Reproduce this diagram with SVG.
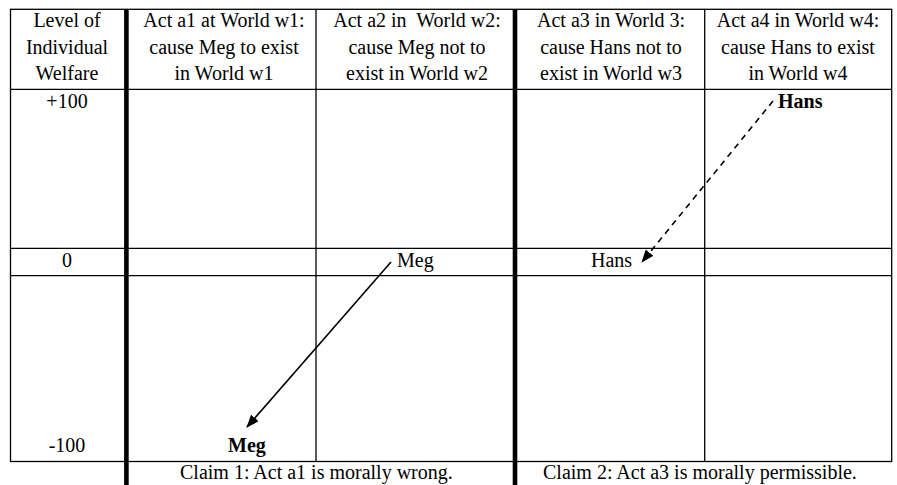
<svg xmlns="http://www.w3.org/2000/svg" width="897" height="485" viewBox="0 0 897 485">
<style>
text{font-family:"Liberation Serif","Times New Roman",serif;font-size:20px;fill:#000}
.c{text-anchor:middle}
.b{font-weight:bold}
.thin{stroke:#000;stroke-width:1.3;fill:none}
.thick{stroke:#000;stroke-width:4.6;fill:none}
</style>
<defs>
<marker id="ah" viewBox="0 0 13 10" refX="12" refY="5" markerWidth="13" markerHeight="10" markerUnits="userSpaceOnUse" orient="auto">
<path d="M0,0 L13,5 L0,10 z" fill="#000"/>
</marker>
</defs>
<rect width="897" height="485" fill="#fff"/>
<g id="grid">
<rect class="thin" x="10.5" y="9.3" width="881.2" height="452.2"/>
<line class="thin" x1="10.5" y1="89.3" x2="891.7" y2="89.3"/>
<line class="thin" x1="10.5" y1="248.3" x2="891.7" y2="248.3"/>
<line class="thin" x1="10.5" y1="275.7" x2="891.7" y2="275.7"/>
<line class="thin" x1="316" y1="9.3" x2="316" y2="461.5"/>
<line class="thin" x1="704.7" y1="9.3" x2="704.7" y2="461.5"/>
<line class="thick" x1="126.4" y1="9.3" x2="126.4" y2="485"/>
<line class="thick" x1="515" y1="9.3" x2="515" y2="485"/>
</g>
<g id="header">
<text class="c" x="67" y="27">Level of</text>
<text class="c" x="67" y="53.5">Individual</text>
<text class="c" x="67" y="80">Welfare</text>
<text class="c" x="224" y="27">Act a1 at World w1:</text>
<text class="c" x="224" y="53.5">cause Meg to exist</text>
<text class="c" x="224" y="80">in World w1</text>
<text class="c" x="417" y="27" xml:space="preserve">Act a2 in  World w2:</text>
<text class="c" x="417" y="53.5">cause Meg not to</text>
<text class="c" x="417" y="80">exist in World w2</text>
<text class="c" x="611" y="27">Act a3 in World 3:</text>
<text class="c" x="611" y="53.5">cause Hans not to</text>
<text class="c" x="611" y="80">exist in World w3</text>
<text class="c" x="798" y="27">Act a4 in World w4:</text>
<text class="c" x="798" y="53.5">cause Hans to exist</text>
<text class="c" x="798" y="80">in World w4</text>
</g>
<g id="levels">
<text class="c" x="67" y="107.5">+100</text>
<text class="c" x="67" y="267">0</text>
<text class="c" x="67" y="452">-100</text>
</g>
<g id="meg-w1"><text class="c b" x="247" y="452">Meg</text></g>
<g id="meg-w2"><text x="397" y="267">Meg</text></g>
<g id="hans-w3"><text x="591" y="267">Hans</text></g>
<g id="hans-w4"><text class="b" x="778" y="108">Hans</text></g>
<g id="connectors">
<line x1="391" y1="262" x2="247" y2="427" stroke="#000" stroke-width="1.6" marker-end="url(#ah)"/>
<line x1="773" y1="101" x2="642" y2="262" stroke="#000" stroke-width="1.6" stroke-dasharray="6,5" marker-end="url(#ah)"/>
</g>
<g id="claims">
<text x="180" y="479">Claim 1: Act a1 is morally wrong.</text>
<text x="543" y="479">Claim 2: Act a3 is morally permissible.</text>
</g>
</svg>
